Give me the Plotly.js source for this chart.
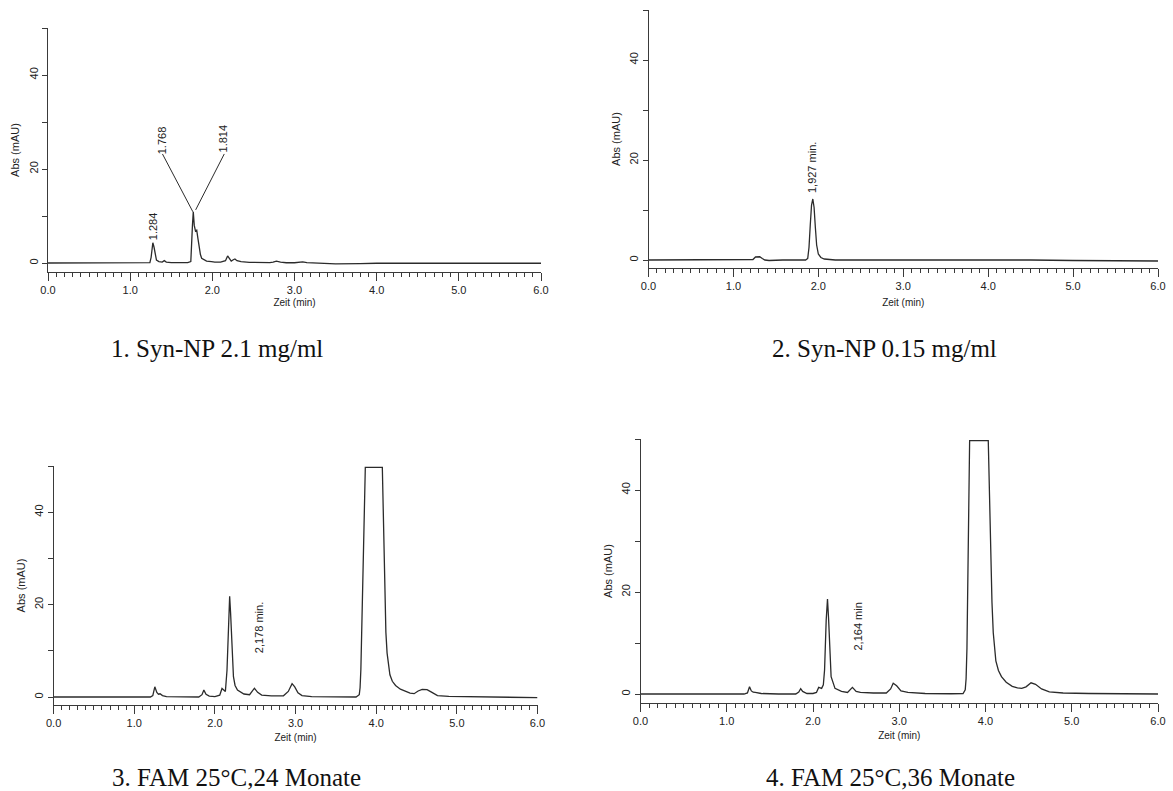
<!DOCTYPE html>
<html>
<head>
<meta charset="utf-8">
<script src="https://cdn.plot.ly/plotly-3.0.1.min.js"></script>
<style>
html,body{margin:0;padding:0;background:#fff;}
#chart{width:1173px;height:791px;}
</style>
</head>
<body>
<div id="chart"></div>
<script>
// ---- Data ----
// Panel 1: Syn-NP 2.1 mg/ml
var time1 = [0, 0.5, 1.0, 1.2, 1.24, 1.255, 1.265, 1.276, 1.29, 1.305, 1.32, 1.35, 1.39, 1.415, 1.44, 1.5, 1.6, 1.7, 1.738, 1.75, 1.758, 1.768, 1.78, 1.795, 1.81, 1.825, 1.837, 1.855, 1.87, 1.93, 1.99, 2.03, 2.1, 2.16, 2.186, 2.21, 2.23, 2.255, 2.275, 2.3, 2.35, 2.45, 2.6, 2.66, 2.7, 2.74, 2.78, 2.83, 2.9, 3.0, 3.06, 3.10, 3.15, 3.3, 3.5, 3.8, 4.0, 4.5, 5.0, 5.5, 6.0];
var abs1 = [0, 0, 0, 0, 0.1, 1.2, 3.0, 4.3, 3.4, 1.6, 0.6, 0.3, 0.2, 0.5, 0.2, 0.1, 0.05, 0.1, 0.3, 3.5, 8.0, 10.9, 8.0, 6.8, 7.0, 5.2, 3.5, 1.8, 1.0, 0.4, 0.3, 0.2, 0.2, 0.5, 1.5, 0.9, 0.4, 0.7, 0.85, 0.5, 0.3, 0.15, 0.05, 0.15, 0.1, 0.2, 0.4, 0.2, 0.05, 0.05, 0.15, 0.25, 0.1, -0.05, -0.2, -0.15, -0.05, -0.05, -0.1, -0.05, -0.05];

// Panel 2: Syn-NP 0.15 mg/ml
var time2 = [0, 0.5, 1.0, 1.2, 1.23, 1.26, 1.29, 1.31, 1.34, 1.37, 1.42, 1.5, 1.54, 1.58, 1.7, 1.85, 1.875, 1.89, 1.905, 1.92, 1.935, 1.95, 1.965, 1.98, 2.0, 2.03, 2.07, 2.12, 2.2, 2.5, 3.0, 3.5, 3.9, 4.5, 5.0, 5.5, 6.0];
var abs2 = [0, 0, 0, 0, 0.1, 0.6, 0.6, 0.65, 0.3, 0, -0.1, -0.05, 0.1, 0, 0, 0, 0.3, 2.5, 7.0, 11.0, 12.2, 10.5, 6.5, 3.0, 1.2, 0.5, 0.2, 0.1, 0, 0, 0, -0.05, 0.1, 0, -0.1, -0.15, -0.2];

// Panel 3: FAM 25°C, 24 Monate
var time3 = [0, 0.5, 1.0, 1.2, 1.23, 1.255, 1.28, 1.3, 1.32, 1.35, 1.4, 1.6, 1.8, 1.84, 1.863, 1.89, 1.93, 2.0, 2.06, 2.088, 2.11, 2.13, 2.15, 2.166, 2.183, 2.195, 2.207, 2.22, 2.23, 2.25, 2.28, 2.36, 2.43, 2.49, 2.53, 2.58, 2.7, 2.85, 2.91, 2.957, 2.99, 3.03, 3.08, 3.2, 3.5, 3.75, 3.79, 3.80, 3.81, 3.825, 3.84, 3.855, 3.865, 4.076, 4.09, 4.105, 4.12, 4.135, 4.15, 4.17, 4.2, 4.24, 4.3, 4.365, 4.42, 4.47, 4.52, 4.57, 4.63, 4.68, 4.76, 4.9, 5.2, 5.6, 6.0];
var abs3 = [0, 0, 0, 0, 0.3, 2.2, 1.0, 0.6, 0.7, 0.3, 0.1, 0, 0, 0.5, 1.5, 0.6, 0.2, 0.1, 0.4, 1.85, 1.4, 1.2, 5.8, 16.6, 21.8, 18.0, 13.0, 8.0, 4.4, 2.5, 1.5, 0.65, 0.5, 1.9, 1.0, 0.4, 0.25, 0.25, 1.2, 2.9, 2.2, 0.9, 0.3, 0.1, 0.0, 0.0, 0.5, 2.0, 6.0, 18.0, 33.0, 45.0, 49.7, 49.7, 38.0, 24.0, 14.0, 9.5, 6.8, 4.8, 3.4, 2.5, 1.7, 1.15, 0.85, 0.72, 1.3, 1.65, 1.6, 1.1, 0.3, 0.15, 0.1, 0.0, -0.15];

// Panel 4: FAM 25°C, 36 Monate
var time4 = [0, 0.5, 1.0, 1.2, 1.24, 1.264, 1.285, 1.307, 1.33, 1.4, 1.6, 1.8, 1.835, 1.857, 1.88, 1.93, 2.0, 2.04, 2.066, 2.10, 2.12, 2.134, 2.153, 2.168, 2.18, 2.19, 2.21, 2.255, 2.33, 2.4, 2.457, 2.5, 2.55, 2.7, 2.85, 2.9, 2.93, 2.97, 3.02, 3.1, 3.3, 3.6, 3.74, 3.765, 3.775, 3.785, 3.795, 3.805, 3.816, 4.032, 4.045, 4.06, 4.075, 4.09, 4.105, 4.12, 4.15, 4.185, 4.24, 4.31, 4.37, 4.42, 4.47, 4.528, 4.58, 4.65, 4.74, 4.9, 5.2, 5.6, 6.0];
var abs4 = [0, 0, 0, 0, 0.2, 1.43, 0.6, 0.35, 0.3, 0.1, 0, 0, 0.4, 1.05, 0.5, 0.1, 0.1, 0.3, 1.3, 1.1, 1.8, 4.7, 14.5, 18.6, 15.0, 11.2, 3.4, 1.1, 0.5, 0.3, 1.3, 0.5, 0.3, 0.2, 0.2, 1.0, 2.1, 1.6, 0.6, 0.3, 0.1, 0.05, 0.1, 0.8, 3.0, 9.0, 22.0, 38.0, 49.7, 49.7, 40.0, 27.0, 18.0, 12.0, 8.5, 6.5, 4.6, 3.4, 2.3, 1.5, 1.2, 1.1, 1.4, 2.2, 1.9, 1.0, 0.4, 0.2, 0.1, 0.05, 0.0];

// Peak labels
var peakLabels1 = ["1.284", "1.768", "1.814"];
var peakLabelX1 = [1.276, 1.38, 2.13];
var peakLabelY1 = [7.8, 26.2, 26.5];
var leaderFromX1 = [1.393, 2.145];
var leaderFromY1 = [23.2, 23.2];
var leaderToX1 = [1.763, 1.797];
var leaderToY1 = [10.9, 11.3];
var peakLabel2 = "1,927 min.", peakLabelX2 = 1.92, peakLabelY2 = 18.5;
var peakLabel3 = "2,178 min.", peakLabelX3 = 2.54, peakLabelY3 = 15.0;
var peakLabel4 = "2,164 min", peakLabelX4 = 2.52, peakLabelY4 = 13.2;

var captions = ["1. Syn-NP 2.1 mg/ml", "2. Syn-NP 0.15 mg/ml", "3. FAM 25°C,24 Monate", "4. FAM 25°C,36 Monate"];
var xTitle = "Zeit (min)";
var yTitle = "Abs (mAU)";

// ---- Layout geometry ----
var W = 1173, H = 791;
var panels = [
  {t: time1, a: abs1, xd: [48/W, 541/W], yd: [1-272/H, 1-28/H], ymin: -1.915, stand: 3},
  {t: time2, a: abs2, xd: [648.5/W, 1158/W], yd: [1-268/H, 1-10/H], ymin: -1.6, stand: 7},
  {t: time3, a: abs3, xd: [53.6/W, 537.5/W], yd: [1-705/H, 1-466/H], ymin: -1.73, stand: 5},
  {t: time4, a: abs4, xd: [640.5/W, 1158/W], yd: [1-703/H, 1-439/H], ymin: -1.765, stand: 5}
];
var sans = "Liberation Sans, Arial, sans-serif";
var serif = "Liberation Serif, Times New Roman, serif";
var axCol = "#3a3a3a";

var data = [];
var layout = {
  width: W, height: H,
  margin: {l: 0, r: 0, t: 0, b: 0},
  paper_bgcolor: "#fff", plot_bgcolor: "#fff",
  showlegend: false,
  font: {family: sans, size: 11, color: "#222"},
  annotations: [], shapes: []
};

panels.forEach(function (p, i) {
  var n = i + 1;
  var xa = n === 1 ? "x" : "x" + n;
  var ya = n === 1 ? "y" : "y" + n;
  data.push({
    type: "scatter", mode: "lines", x: p.t, y: p.a,
    xaxis: xa, yaxis: ya,
    line: {color: "#2b2b2b", width: 1.3}, hoverinfo: "skip"
  });
  layout["xaxis" + (n === 1 ? "" : n)] = {
    domain: p.xd, anchor: ya, range: [0, 6],
    showgrid: false, zeroline: false, showline: true, linecolor: axCol, linewidth: 1,
    ticks: "outside", ticklen: 8, tickwidth: 1, tickcolor: axCol,
    dtick: 1, tick0: 0, tickformat: ".1f", ticklabeloverflow: "allow",
    tickfont: {family: sans, size: 11, color: "#222"},
    minor: {dtick: 0.1, tick0: 0, ticks: "outside", ticklen: 4, tickwidth: 1, tickcolor: axCol, showgrid: false},
    title: {text: xTitle, font: {family: sans, size: 10, color: "#222"}, standoff: p.stand}
  };
  layout["yaxis" + (n === 1 ? "" : n)] = {
    domain: p.yd, anchor: xa, range: [p.ymin, 50],
    showgrid: false, zeroline: false, showline: true, linecolor: axCol, linewidth: 1,
    ticks: "outside", ticklen: 5, tickwidth: 1, tickcolor: axCol,
    dtick: 20, tick0: 0, tickangle: -90,
    tickfont: {family: sans, size: 11, color: "#222"},
    minor: {dtick: 10, tick0: 0, ticks: "outside", ticklen: 5, tickwidth: 1, tickcolor: axCol, showgrid: false},
    title: {text: yTitle, font: {family: sans, size: 11, color: "#222"}, standoff: 5}
  };
});

function peakAnn(text, x, y, xr, yr) {
  return {text: text, x: x, y: y, xref: xr, yref: yr, showarrow: false, textangle: -90,
    xanchor: "center", yanchor: "middle", font: {family: sans, size: 11, color: "#222"}};
}
for (var k = 0; k < peakLabels1.length; k++) {
  layout.annotations.push(peakAnn(peakLabels1[k], peakLabelX1[k], peakLabelY1[k], "x", "y"));
}
for (var m = 0; m < leaderFromX1.length; m++) {
  layout.shapes.push({type: "line", xref: "x", yref: "y",
    x0: leaderFromX1[m], y0: leaderFromY1[m], x1: leaderToX1[m], y1: leaderToY1[m],
    line: {color: "#2b2b2b", width: 1}});
}
layout.annotations.push(peakAnn(peakLabel2, peakLabelX2, peakLabelY2, "x2", "y2"));
layout.annotations.push(peakAnn(peakLabel3, peakLabelX3, peakLabelY3, "x3", "y3"));
layout.annotations.push(peakAnn(peakLabel4, peakLabelX4, peakLabelY4, "x4", "y4"));

var capPos = [[217, 348.7], [884, 348.7], [236, 777.7], [890, 777.7]];
captions.forEach(function (c, i) {
  layout.annotations.push({text: c, xref: "paper", yref: "paper",
    x: capPos[i][0] / W, y: 1 - capPos[i][1] / H, xanchor: "center", yanchor: "middle",
    showarrow: false, font: {family: serif, size: 25, color: "#111"}});
});

Plotly.newPlot("chart", data, layout, {displayModeBar: false, staticPlot: true});
</script>
</body>
</html>
